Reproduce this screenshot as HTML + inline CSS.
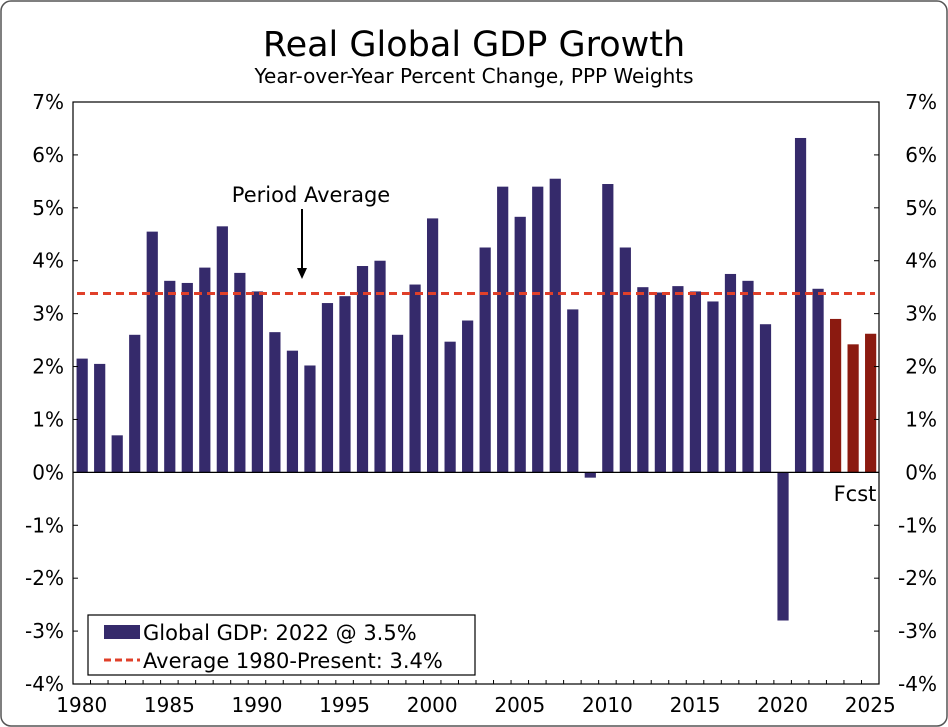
<!DOCTYPE html>
<html><head><meta charset="utf-8"><style>
body{margin:0;background:#fff;}
svg{display:block;font-family:"DejaVu Sans","Liberation Sans",sans-serif;}
</style></head><body>
<svg width="948" height="727" viewBox="0 0 948 727">
<rect x="1" y="1" width="946" height="725" rx="10" fill="#fff" stroke="#555" stroke-width="1.5"/>
<text x="474" y="56" font-size="35" text-anchor="middle">Real Global GDP Growth</text>
<text x="474" y="83" font-size="20" text-anchor="middle">Year-over-Year Percent Change, PPP Weights</text>
<g id="plot"></g>
<g id="axes"></g>
<text x="311" y="202" font-size="21" text-anchor="middle">Period Average</text>
<line x1="302" y1="209" x2="302" y2="270" stroke="#000" stroke-width="2"/>
<polygon points="297,268 307,268 302,279" fill="#000"/>
<text x="855" y="501" font-size="21" text-anchor="middle">Fcst</text>
<g>
<rect x="88" y="615" width="387" height="60" fill="#fff" stroke="#000" stroke-width="1.2"/>
<rect x="104" y="625" width="36" height="14" fill="#352a6b"/>
<text x="143" y="640" font-size="21">Global GDP: 2022 @ 3.5%</text>
<line x1="104" y1="660" x2="140" y2="660" stroke="#e0402a" stroke-width="3" stroke-dasharray="7,4"/>
<text x="143" y="668" font-size="21">Average 1980-Present: 3.4%</text>
</g>
</svg>
<script>
const years=[1980,1981,1982,1983,1984,1985,1986,1987,1988,1989,1990,1991,1992,1993,1994,1995,1996,1997,1998,1999,2000,2001,2002,2003,2004,2005,2006,2007,2008,2009,2010,2011,2012,2013,2014,2015,2016,2017,2018,2019,2020,2021,2022,2023,2024,2025];
const growth=[2.15,2.05,0.7,2.6,4.55,3.62,3.58,3.87,4.65,3.77,3.42,2.65,2.3,2.02,3.2,3.33,3.9,4.0,2.6,3.55,4.8,2.47,2.87,4.25,5.4,4.83,5.4,5.55,3.08,-0.1,5.45,4.25,3.5,3.4,3.52,3.42,3.23,3.75,3.62,2.8,-2.8,6.32,3.47,2.9,2.42,2.62];
const forecastStart=2023;
const average=[3.38];
const yTicks=[-4,-3,-2,-1,0,1,2,3,4,5,6,7];
const xLabels=[1980,1985,1990,1995,2000,2005,2010,2015,2020,2025];
const NS='http://www.w3.org/2000/svg';
const L=73,R=879,T=102,B=684,yMin=-4,yMax=7;
const bw=(R-L)/years.length;
const y=v=>T+(yMax-v)/(yMax-yMin)*(B-T);
const xc=yr=>L+(yr-years[0]+0.5)*bw;
function mk(tag,attrs,parent){const e=document.createElementNS(NS,tag);for(const k in attrs)e.setAttribute(k,attrs[k]);parent.appendChild(e);return e;}
const plot=document.getElementById('plot'),axes=document.getElementById('axes');
years.forEach((yr,i)=>{const v=growth[i];
const r=mk('rect',{x:xc(yr)-5.2,y:Math.min(y(v),y(0)),width:11.2,height:Math.abs(y(v)-y(0)),fill:yr>=forecastStart?'#8b1a10':'#352a6b'},plot);

});
const zl=mk('line',{x1:L,x2:R,y1:y(0),y2:y(0),stroke:'#000','stroke-width':1.2},axes);


const av=mk('line',{x1:L+4,x2:R-4,y1:y(average[0]),y2:y(average[0]),stroke:'#e0402a','stroke-width':3,'stroke-dasharray':'8,5'},axes);


const fr=mk('rect',{x:L,y:T,width:R-L,height:B-T,fill:'none',stroke:'#000','stroke-width':1.2},axes);


yTicks.forEach(t=>{const yy=y(t);
mk('line',{x1:L,x2:L+5,y1:yy,y2:yy,stroke:'#000'},axes);
mk('line',{x1:R-5,x2:R,y1:yy,y2:yy,stroke:'#000'},axes);
const a=mk('text',{x:L-9,y:yy+7,'font-size':20,'text-anchor':'end'},axes);a.textContent=t+'%';


const b=mk('text',{x:R+58,y:yy+7,'font-size':20,'text-anchor':'end'},axes);b.textContent=t+'%';

});
years.forEach(yr=>{const xx=L+(yr-years[0])*bw;mk('line',{x1:xx,x2:xx,y1:B,y2:B-4,stroke:'#000'},axes);});
xLabels.forEach(yr=>{const t=mk('text',{x:xc(yr),y:B+28,'font-size':20,'text-anchor':'middle'},axes);t.textContent=yr;

});
</script>
</body></html>
